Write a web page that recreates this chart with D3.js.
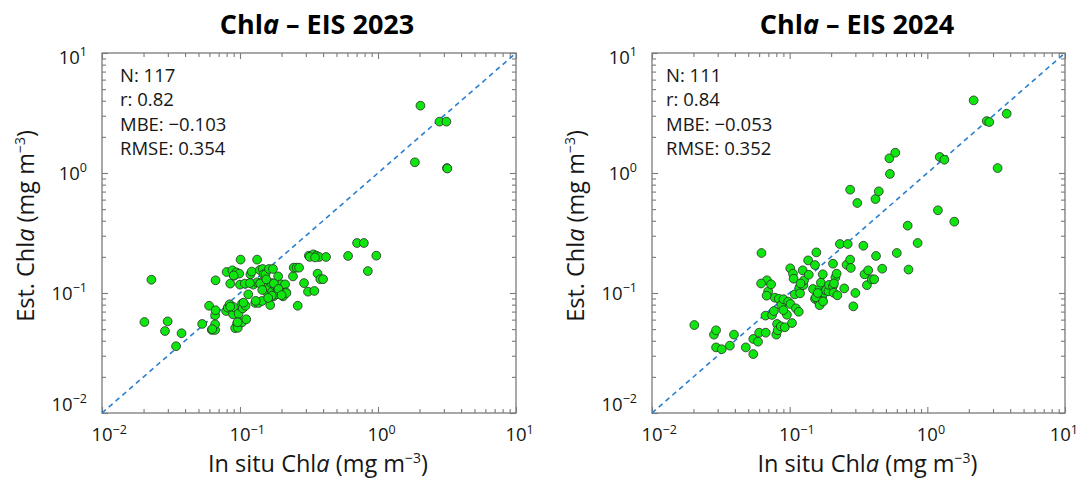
<!DOCTYPE html>
<html>
<head>
<meta charset="utf-8">
<script src="https://cdn.jsdelivr.net/npm/d3@7"></script>
<style>
  body { margin: 0; background: #fff; }
  svg { display: block; }
  text { font-family: "Open Sans", "Noto Sans", sans-serif; fill: #161616; }
</style>
</head>
<body>
<svg id="chart" width="1080" height="478"></svg>
<script>
// In situ vs. estimated chlorophyll-a (mg m^-3), EIS campaigns
const insitu2023 = [0.0203,0.0228,0.0286,0.0299,0.0344,0.0377,0.0532,0.0597,0.0625,0.066,0.066,0.066,0.0665,0.0665,0.0794,0.0800,0.0815,0.0841,0.0850,0.0881,0.0890,0.0899,0.0905,0.0922,0.0942,0.0953,0.0964,0.0976,0.0987,0.100,0.101,0.1034,0.1034,0.1046,0.1084,0.1097,0.111,0.1148,0.119,0.1217,0.1246,0.1289,0.133,0.133,0.1363,0.1392,0.1409,0.1443,0.146,0.148,0.148,0.152,0.153,0.1585,0.1622,0.164,0.1657,0.169,0.171,0.1733,0.175,0.1798,0.1834,0.187,0.189,0.1987,0.2006,0.2052,0.2075,0.2122,0.2146,0.217,0.242,0.245,0.257,0.262,0.268,0.291,0.311,0.3155,0.33,0.34,0.346,0.358,0.365,0.375,0.382,0.4,0.42,0.607,0.705,0.79,0.844,0.972,1.85,2.03,2.79,3.13,3.16,3.18,0.085,0.09,0.13,0.14,0.155,0.17,0.176,0.19,0.2,0.118,0.106,0.096,0.063,0.145,0.16,0.32,0.35];
const est2023 = [0.0573,0.129,0.0482,0.058,0.036,0.0462,0.0552,0.0783,0.0492,0.0492,0.0548,0.0652,0.0718,0.1276,0.0708,0.1496,0.0755,0.0805,0.1197,0.1545,0.0664,0.0764,0.1393,0.051,0.1485,0.0555,0.0513,0.0673,0.1449,0.1173,0.1897,0.0815,0.057,0.0745,0.1197,0.0783,0.0604,0.0975,0.1432,0.1508,0.1173,0.0826,0.1897,0.1228,0.0826,0.1556,0.121,0.0858,0.1585,0.1432,0.108,0.1197,0.1432,0.1,0.1585,0.1108,0.0794,0.121,0.1026,0.1585,0.0938,0.1137,0.0975,0.1108,0.1376,0.118,0.0994,0.0938,0.1,0.118,0.1013,0.1,0.1376,0.1626,0.1626,0.0783,0.1626,0.121,0.1026,0.2047,0.2047,0.21,0.104,0.2047,0.1449,0.1995,0.1303,0.1303,0.1995,0.2036,0.261,0.261,0.1524,0.2047,1.228,3.64,2.68,2.68,1.10,1.09,0.077,0.14,0.086,0.12,0.13,0.095,0.12,0.108,0.096,0.121,0.083,0.057,0.05,0.106,0.091,0.2,0.198];

const insitu2024 = [0.0203,0.0282,0.0292,0.0292,0.0321,0.0368,0.0394,0.048,0.0544,0.0544,0.0589,0.060,0.0624,0.0668,0.067,0.0684,0.0698,0.0733,0.0745,0.0768,0.078,0.080,0.081,0.0818,0.0834,0.0862,0.0869,0.0902,0.0922,0.0955,0.0975,0.101,0.1013,0.104,0.1057,0.1068,0.109,0.111,0.1164,0.1176,0.119,0.1243,0.1258,0.1272,0.1362,0.1377,0.1478,0.1527,0.1527,0.1562,0.1618,0.165,0.165,0.1685,0.1702,0.1719,0.174,0.178,0.1832,0.1912,0.193,0.2064,0.2064,0.2085,0.2148,0.2194,0.2218,0.2317,0.249,0.259,0.264,0.275,0.275,0.278,0.290,0.30,0.31,0.343,0.35,0.364,0.372,0.395,0.411,0.42,0.424,0.444,0.47,0.535,0.53,0.585,0.60,0.72,0.73,0.85,1.194,1.23,1.33,1.57,2.17,2.70,2.82,3.24,3.77,0.155,0.16,0.175,0.09,0.12,0.062,0.21,0.068];
const est2024 = [0.0541,0.045,0.0489,0.0352,0.034,0.0364,0.045,0.0352,0.0414,0.031,0.0393,0.0467,0.2154,0.0648,0.0467,0.1276,0.1033,0.118,0.0656,0.0708,0.0914,0.045,0.0552,0.0489,0.0895,0.0527,0.0794,0.0887,0.0518,0.0659,0.0847,0.1606,0.081,0.0562,0.1449,0.1315,0.0975,0.0745,0.0698,0.1107,0.0994,0.1545,0.1163,0.1276,0.187,0.1419,0.108,0.0895,0.171,0.218,0.0852,0.0792,0.108,0.1219,0.0994,0.0914,0.1432,0.1,0.1052,0.1033,0.1169,0.1754,0.1142,0.1005,0.1347,0.1449,0.0957,0.256,0.1092,0.172,0.256,0.1897,0.726,0.1617,0.0774,0.1,0.5623,0.2477,0.1432,0.1163,0.1545,0.13,0.13,0.607,0.2036,0.703,0.1594,0.982,1.325,1.476,0.2154,0.364,0.1568,0.261,0.489,1.36,1.29,0.393,4.03,2.71,2.66,1.10,3.12,0.092,0.1,0.085,0.072,0.12,0.12,0.12,0.095];

const statNames = ["N", "r", "MBE", "RMSE"];
const stats2023 = ["117", "0.82", "\u22120.103", "0.354"];
const stats2024 = ["111", "0.84", "\u22120.053", "0.352"];
const titles = ["2023", "2024"];
const decadeTicks = [0.01, 0.1, 1, 10];
const decadeExponents = ["\u22122", "\u22121", "0", "1"];
const axisDomain = [0.01, 10];

const W = 1080;
const svg = d3.select("#chart");

const panels = [
  { title: titles[0], xs: insitu2023, ys: est2023, stats: stats2023,
    left: 102, right: 516, top: 53, bottom: 413, titleX: 317, statsX: 120 },
  { title: titles[1], xs: insitu2024, ys: est2024, stats: stats2024,
    left: 652, right: 1065, top: 53, bottom: 413, titleX: 857, statsX: 666 }
];

// minor ticks 2..9 within each decade
const minorTicks = [];
for (let d = 0; d < 3; d++) {
  for (let k = 2; k <= 9; k++) minorTicks.push(k * decadeTicks[d]);
}

const frameColor = "#7a7a7a";

// "10" with a raised exponent
function powerLabel(sel, exp) {
  sel.append("tspan").text("10");
  sel.append("tspan").attr("font-size", 12.5).attr("dy", -7.5).text(exp);
}

// "Chl" followed by an italic "a" and the unit
function chlaText(sel, before) {
  sel.append("tspan").text(before + "Chl");
  sel.append("tspan").attr("font-style", "italic").text("a");
  sel.append("tspan").text(" (mg m");
  sel.append("tspan").attr("font-size", 14).attr("dy", -9).text("\u22123");
  sel.append("tspan").attr("dy", 9).text(")");
}

panels.forEach(p => {
  const x = d3.scaleLog().domain(axisDomain).range([p.left, p.right]);
  const y = d3.scaleLog().domain(axisDomain).range([p.bottom, p.top]);
  const g = svg.append("g");

  // frame
  g.append("rect")
    .attr("x", p.left).attr("y", p.top)
    .attr("width", p.right - p.left).attr("height", p.bottom - p.top)
    .attr("fill", "none").attr("stroke", frameColor).attr("stroke-width", 1.3);

  // inward ticks on all four sides
  const axes = [
    { ax: d3.axisBottom(x), tr: `translate(0,${p.bottom})` },
    { ax: d3.axisTop(x), tr: `translate(0,${p.top})` },
    { ax: d3.axisLeft(y), tr: `translate(${p.left},0)` },
    { ax: d3.axisRight(y), tr: `translate(${p.right},0)` }
  ];
  axes.forEach(a => {
    [[decadeTicks, 6], [minorTicks, 4]].forEach(([vals, len]) => {
      const ag = g.append("g").attr("transform", a.tr)
        .call(a.ax.tickValues(vals).tickSize(-len).tickSizeOuter(0).tickFormat(""));
      ag.select(".domain").remove();
      ag.selectAll(".tick line").attr("stroke", frameColor).attr("stroke-width", 1.1);
    });
  });

  // tick labels
  decadeTicks.forEach((v, i) => {
    const tx = g.append("text")
      .attr("font-size", 18.5)
      .attr("y", 441);
    powerLabel(tx, decadeExponents[i]);
    const node = tx.node();
    const w = node.getSubStringLength(0, 2);
    const full = node.getComputedTextLength();
    // keep the label inside the page on the right edge
    const x0 = Math.min(x(v) - w / 2, W - 2 - full);
    tx.attr("x", x0);

    const cy = Math.max(p.top + 4, Math.min(p.bottom - 9, y(v)));
    const ty = g.append("text")
      .attr("font-size", 18.5)
      .attr("text-anchor", "end")
      .attr("x", p.left - 15)
      .attr("y", cy + 6.5);
    powerLabel(ty, decadeExponents[i]);
  });

  // 1:1 line
  g.append("line")
    .attr("x1", x(axisDomain[0])).attr("y1", y(axisDomain[0]))
    .attr("x2", x(axisDomain[1])).attr("y2", y(axisDomain[1]))
    .attr("stroke", "#2a7fcf").attr("stroke-width", 1.6)
    .attr("stroke-dasharray", "5,4");

  // matchups
  g.append("g").selectAll("circle")
    .data(d3.range(p.xs.length))
    .join("circle")
    .attr("cx", i => x(p.xs[i]))
    .attr("cy", i => y(p.ys[i]))
    .attr("r", 4.4)
    .attr("fill", "#0fe60f")
    .attr("stroke", "#2b2b2b")
    .attr("stroke-width", 0.8);

  // statistics box
  statNames.forEach((n, i) => {
    g.append("text")
      .attr("x", p.statsX)
      .attr("y", 82 + i * 24.3)
      .attr("font-size", 18.5)
      .text(`${n}: ${p.stats[i]}`);
  });

  // title
  const t = g.append("text")
    .attr("x", p.titleX).attr("y", 34)
    .attr("text-anchor", "middle")
    .attr("font-size", 27)
    .attr("font-weight", "bold")
    .style("fill", "#000");
  t.append("tspan").text("Chl");
  t.append("tspan").attr("font-style", "italic").text("a");
  t.append("tspan").text(` \u2013 EIS ${p.title}`);

  // axis titles
  const xt = g.append("text")
    .attr("x", (p.left + p.right) / 2 + 9).attr("y", 472)
    .attr("text-anchor", "middle")
    .attr("font-size", 23.5);
  chlaText(xt, "In situ ");

  const cyT = (p.top + p.bottom) / 2 - 7;
  const yt = g.append("text")
    .attr("transform", `translate(${p.left - 68},${cyT}) rotate(-90)`)
    .attr("text-anchor", "middle")
    .attr("font-size", 23.5);
  chlaText(yt, "Est. ");
});
</script>
</body>
</html>
